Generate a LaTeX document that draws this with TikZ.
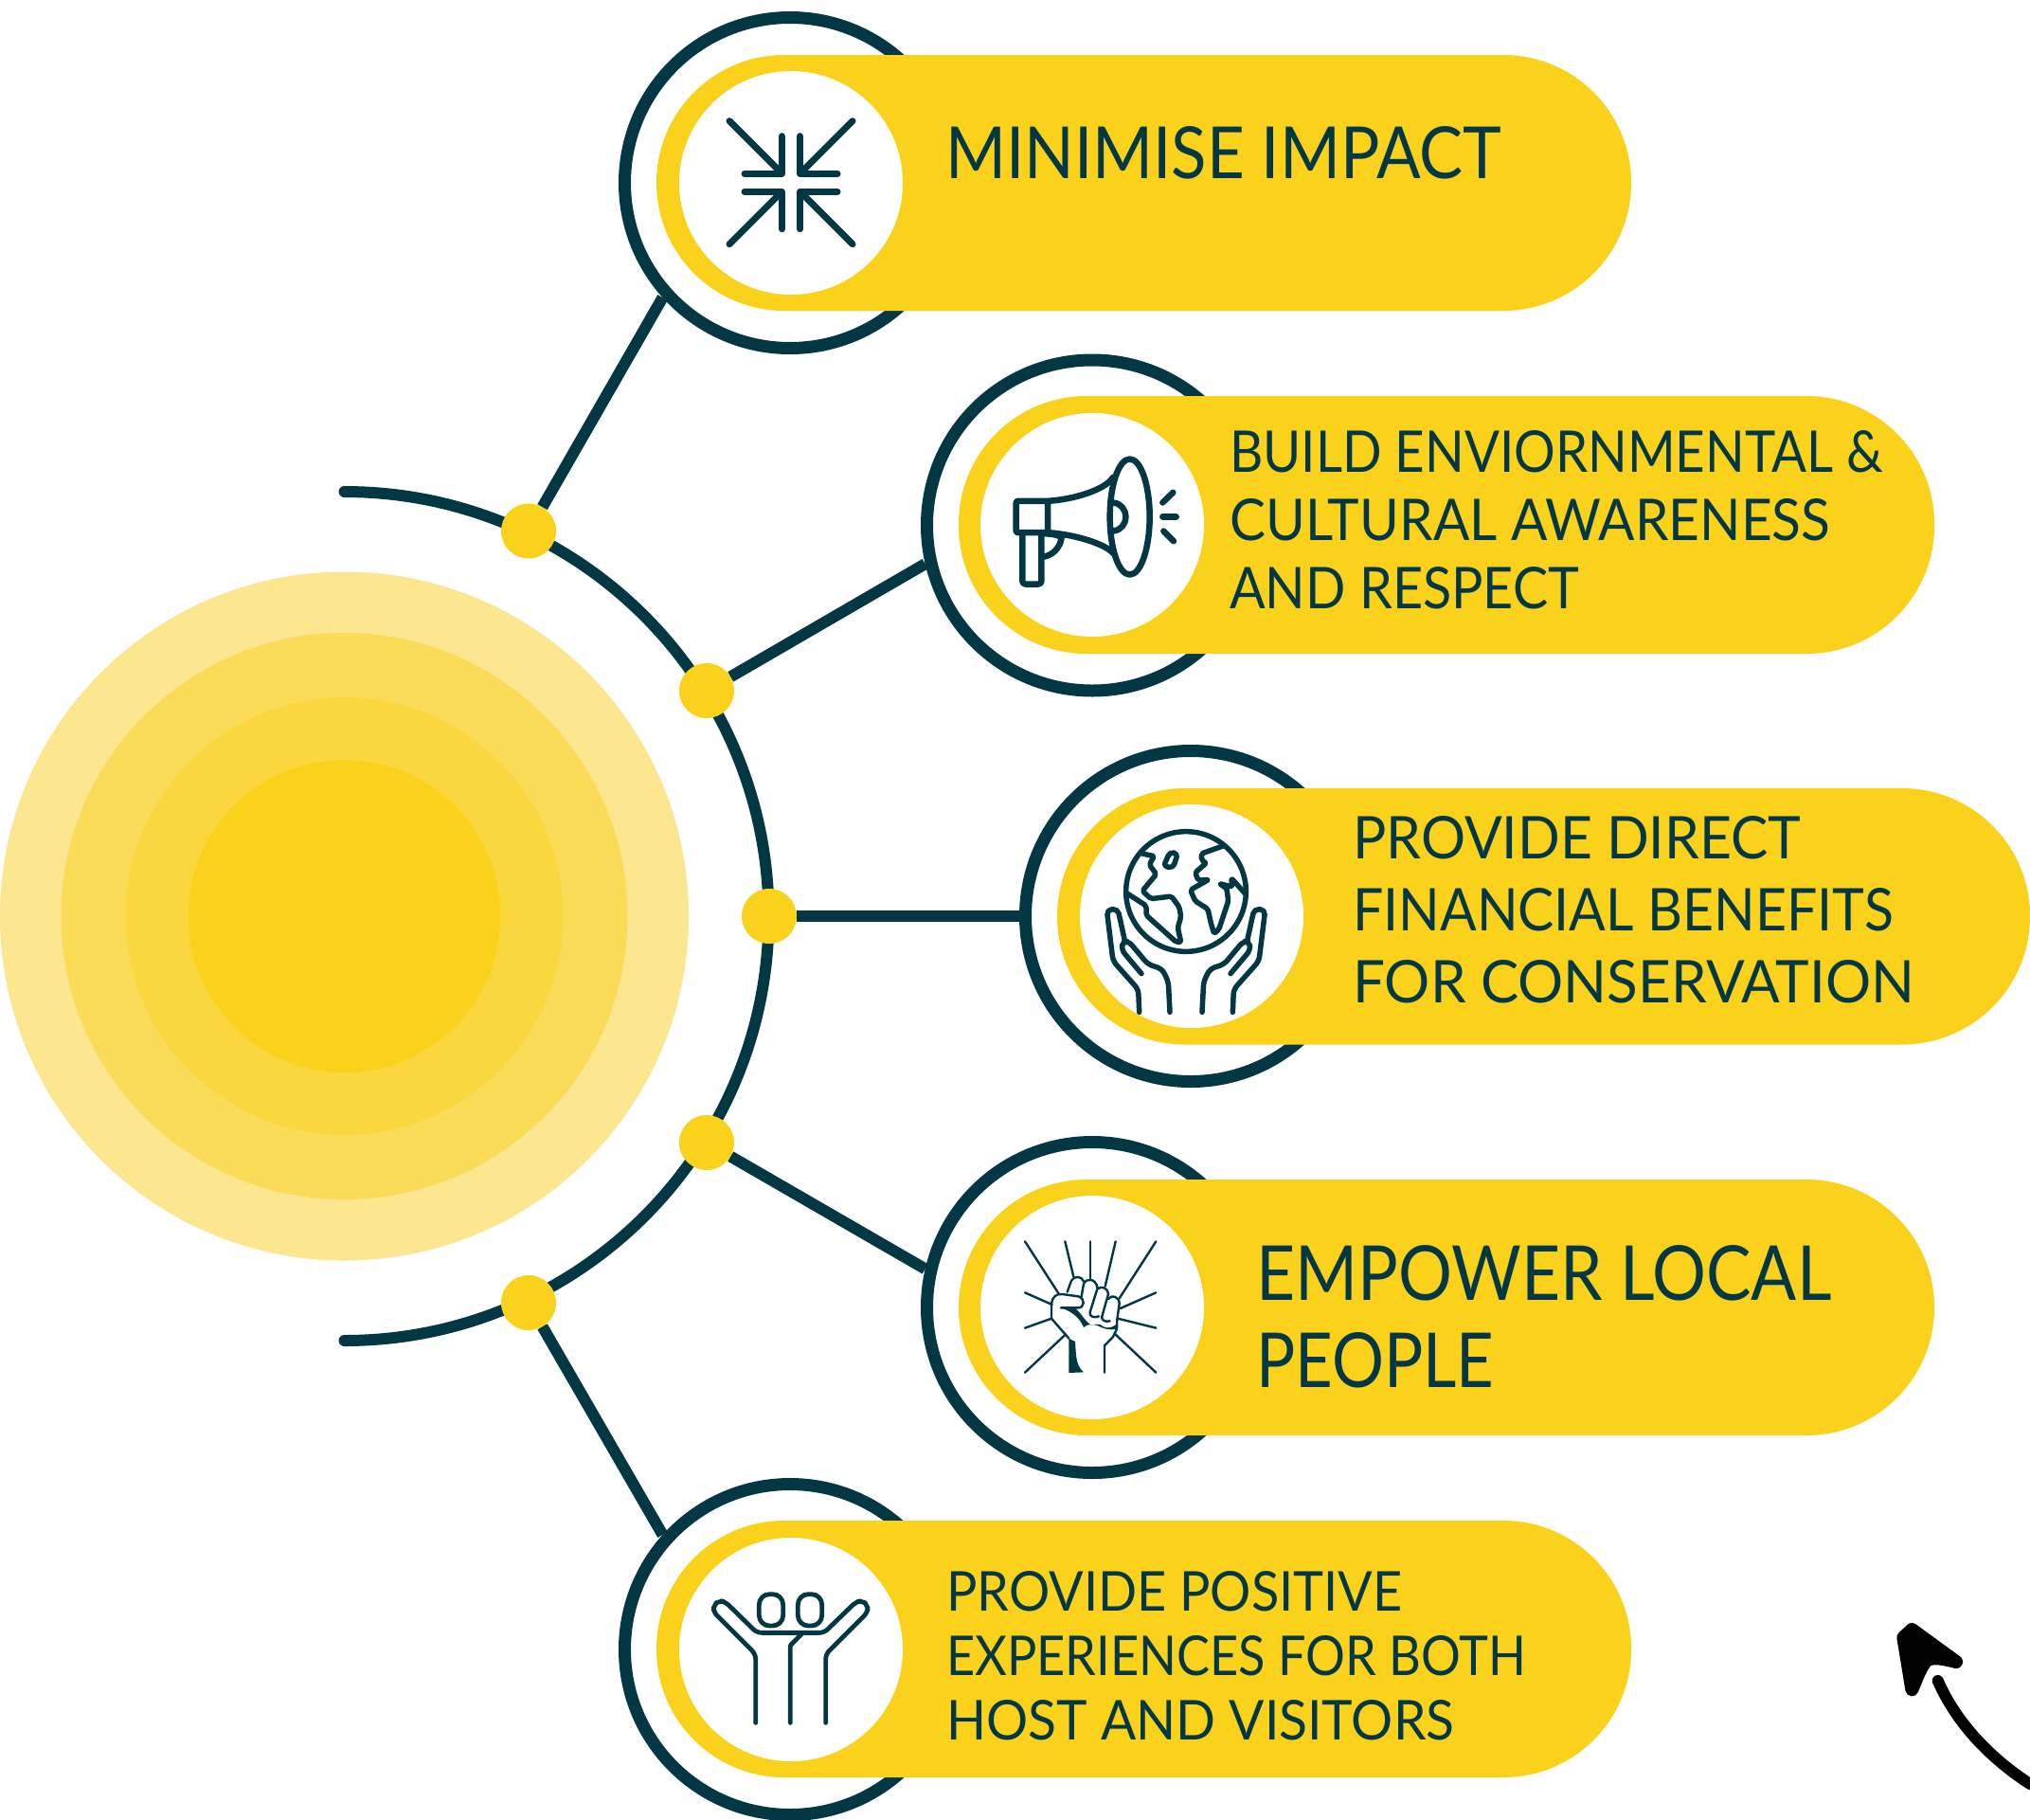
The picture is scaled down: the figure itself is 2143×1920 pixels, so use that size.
\documentclass[tikz,border=0pt]{standalone}
\usepackage{fontspec}
\usepackage{graphicx}
\setmainfont{Lato}
\definecolor{ink}{HTML}{033744}
\definecolor{gold}{HTML}{FBD21B}
\definecolor{sunA}{HTML}{FCE68F}
\definecolor{sunB}{HTML}{FBDC58}
\definecolor{sunC}{HTML}{FBD73F}
\definecolor{sunD}{HTML}{FBD21B}
\newcommand{\fitl}[3]{\resizebox{#1pt}{#2pt}{\fontsize{40}{48}\selectfont #3}}
\tikzset{
  ring/.style={circle,draw=ink,line width=13pt,fill=white,minimum size=349pt,inner sep=0pt},
  hub/.style={circle,fill=gold,minimum size=58pt,inner sep=0pt},
  link/.style={draw=ink,line width=12pt},
  pill/.style={fill=gold,rounded corners=135pt},
  face/.style={circle,fill=white,minimum size=236pt,inner sep=0pt},
  icon/.style={draw=ink,line cap=round,line join=round},
  lab/.style={anchor=west,inner sep=0pt,text=ink,align=left}
}
\begin{document}
\begin{tikzpicture}[x=1pt,y=-1pt]
\useasboundingbox[fill=white] (0,0) rectangle (2143,1920);
% sun
\fill[sunA] (363.5,967) circle[radius=363.5];
\fill[sunB] (363.5,967) circle[radius=299];
\fill[sunC] (363.5,967) circle[radius=231];
\fill[sunD] (363.5,967) circle[radius=165];
% big arc
\draw[ink,line width=12pt,line cap=round] (363.5,519) arc[start angle=-90,end angle=90,radius=448];
% rings
\node[ring] (r1) at (834,193) {};
\node[ring] (r2) at (1153,554.5) {};
\node[ring] (r3) at (1257,967) {};
\node[ring] (r4) at (1153,1380) {};
\node[ring] (r5) at (834,1741) {};
% hubs
\node[hub] (d1) at (558,560.5) {};
\node[hub] (d2) at (746,729) {};
\node[hub] (d3) at (812,967) {};
\node[hub] (d4) at (746,1206) {};
\node[hub] (d5) at (558,1375) {};
% connectors
\draw[link] (d1) -- (r1.222);
\draw[link] (d2) -- (r2.193);
\draw[link] (d3) -- (r3.180);
\draw[link] (d4) -- (r4.167);
\draw[link] (d5) -- (r5.138);
% pills
\fill[pill] (693,58) rectangle (1722,328);
\fill[pill] (1012,418) rectangle (2042,690);
\fill[pill] (1116,832) rectangle (2143,1102.5);
\fill[pill] (1012,1245) rectangle (2042,1515);
\fill[pill] (693,1605) rectangle (1722,1876);
% white faces
\node[face] (f1) at (835,193) {};
\node[face] (f2) at (1153,554) {};
\node[face] (f3) at (1258,967) {};
\node[face] (f4) at (1153,1380) {};
\node[face] (f5) at (835,1741) {};
% labels
\node[lab,font=\fontsize{1}{71}\selectfont] (t1) at (998,161) {\fitl{587}{55}{MINIMISE IMPACT}};
\node[lab,font=\fontsize{1}{72}\selectfont] (t2) at (1298,548.5) {\fitl{690}{44}{BUILD ENVIORNMENTAL \&}\\\fitl{634}{44}{CULTURAL AWARENESS}\\\fitl{369}{44}{AND RESPECT}};
\node[lab,font=\fontsize{1}{76}\selectfont] (t3) at (1428,960) {\fitl{473}{45}{PROVIDE DIRECT}\\\fitl{571}{45}{FINANCIAL BENEFITS}\\\fitl{593}{45}{FOR CONSERVATION}};
\node[lab,font=\fontsize{1}{92}\selectfont] (t4) at (1326,1390) {\fitl{607}{58}{EMPOWER LOCAL}\\\fitl{251}{58}{PEOPLE}};
\node[lab,font=\fontsize{1}{68}\selectfont] (t5) at (999,1748) {\fitl{481}{42}{PROVIDE POSITIVE}\\\fitl{612}{42}{EXPERIENCES FOR BOTH}\\\fitl{536}{42}{HOST AND VISITORS}};
% icon 1
\foreach \sx/\sy in {1/1,-1/1,1/-1,-1/-1}{
  \begin{scope}[shift={(835,192.7)},xscale=\sx,yscale=\sy]
    \draw[icon,line width=7pt] (-65,-65) -- (-10,-10);
    \draw[icon,line width=7pt] (-9.5,-49) -- (-9.5,-9.5) -- (-49,-9.5);
  \end{scope}
}
% icon 2 megaphone
\begin{scope}[shift={(1020,420.5)},scale=1/3]
  \draw[icon,line width=6.5pt,rounded corners=2pt] (158,325) rectangle (258,425);
  \draw[icon,line width=6.5pt,rounded corners=3pt] (178,425) -- (178,588) -- (238,588) -- (238,425);
  \draw[icon,line width=6.5pt] (238,428) .. controls (270,428) and (290,432) .. (302,440) .. controls (298,475) and (270,500) .. (240,502);
  \draw[icon,line width=6.5pt] (258,325) .. controls (340,320) and (440,290) .. (465,250);
  \draw[icon,line width=6.5pt] (258,425) .. controls (340,430) and (440,460) .. (465,490);
  \draw[icon,line width=6.5pt] (518,375) ellipse [x radius=63,y radius=183];
  \draw[icon,line width=6.5pt] (465,330) .. controls (490,332) and (505,352) .. (505,375) .. controls (505,398) and (490,418) .. (465,420);
  \draw[icon,line width=6.5pt] (622,330) -- (655,298);
  \draw[icon,line width=6.5pt] (622,375) -- (665,375);
  \draw[icon,line width=6.5pt] (625,420) -- (657,452);
\end{scope}
% icon 3 globe in hands
\begin{scope}[shift={(1130,851)},scale=1/3]
  \draw[icon,line width=5.5pt] (366,270) circle[radius=190];
  \draw[icon,line width=5.5pt,rounded corners=2pt] (228,150) -- (265,158) -- (250,185) -- (272,215) -- (228,268) -- (255,293) -- (320,285) -- (345,320) -- (350,350) -- (340,385) -- (350,430) -- (335,430) -- (240,345) -- (240,315) -- (178,275);
  \draw[icon,line width=5.5pt,rounded corners=4pt] (295,190) -- (315,145) -- (340,150) -- (325,195) -- cycle;
  \draw[icon,line width=5.5pt,rounded corners=2pt] (485,125) -- (415,150) -- (415,170) -- (430,180) -- (395,210) -- (405,235) -- (438,232) -- (380,265) -- (395,300) -- (435,325) -- (445,370) -- (455,403) -- (470,390) -- (500,300) -- (495,260) -- (472,245) -- (512,255) -- (510,228) -- (552,275);
  \foreach \m/\o in {1/0,-1/732}{
    \begin{scope}[shift={(\o,0)},xscale=\m]
      \draw[icon,line width=5.5pt,rounded corners=5pt] (218,652) -- (215,580) -- (135,490) -- (115,328) -- (150,325) -- (172,425);
      \draw[icon,line width=5.5pt,rounded corners=5pt] (225,530) -- (162,455) -- (165,428) -- (185,428) -- (245,500) -- (290,515) -- (310,555) -- (315,652);
    \end{scope}
  }
\end{scope}
% icon 4 fist
\begin{scope}[shift={(1060,1291)},scale=1/3]
  \draw[icon,line width=2.4pt] (66,58) -- (172,222);
  \draw[icon,line width=2.4pt] (193,58) -- (220,170);
  \draw[icon,line width=2.4pt] (273,58) -- (273,175);
  \draw[icon,line width=2.4pt] (353,58) -- (320,200);
  \draw[icon,line width=2.4pt] (481,58) -- (365,238);
  \draw[icon,line width=2.4pt] (66,220) -- (152,258);
  \draw[icon,line width=2.4pt] (481,220) -- (368,270);
  \draw[icon,line width=2.4pt] (66,332) -- (150,302);
  \draw[icon,line width=2.4pt] (481,332) -- (360,302);
  \draw[icon,line width=2.4pt] (66,473) -- (195,352);
  \draw[icon,line width=2.4pt] (481,473) -- (350,350);
  \draw[icon,line width=2.4pt] (205,365) -- (150,302) -- (150,255) .. controls (152,235) and (165,222) .. (185,225) -- (235,232) .. controls (258,238) and (255,268) .. (235,268) -- (180,268);
  \fill[ink] (180,268) -- (225,270) .. controls (245,285) and (255,310) .. (275,322) .. controls (290,322) and (300,315) .. (315,328) .. controls (330,335) and (345,330) .. (358,318) -- (357,335) .. controls (335,340) and (315,335) .. (295,324) .. controls (280,320) and (265,318) .. (252,330) .. controls (240,300) and (215,280) .. (180,268) -- cycle;
  \draw[icon,line width=2.4pt] (200,218) -- (213,182) .. controls (222,165) and (248,168) .. (252,185);
  \draw[icon,line width=2.4pt] (245,232) -- (252,192) .. controls (262,172) and (290,175) .. (296,205) -- (272,282) .. controls (268,295) and (285,302) .. (300,295);
  \draw[icon,line width=2.4pt] (296,208) .. controls (308,198) and (330,205) .. (330,225) -- (310,295) .. controls (306,305) and (320,315) .. (335,310);
  \draw[icon,line width=2.4pt] (330,240) .. controls (340,225) and (365,232) .. (365,255) -- (358,305) -- (357,335) -- (345,360) -- (318,388) -- (318,473);
  \fill[ink] (205,365) -- (225,375) .. controls (228,410) and (225,450) .. (252,472) -- (205,474) -- cycle;
\end{scope}
% icon 5 people
\begin{scope}[shift={(730,1661)},scale=1/3]
  \draw[icon,line width=4.8pt,rounded corners=11pt] (214,65) rectangle (290,165);
  \draw[icon,line width=4.8pt,rounded corners=11pt] (337,65) rectangle (413,165);
  \draw[icon,line width=4.8pt,rounded corners=5pt] (203,472) -- (203,255) -- (70,122) -- (70,100) -- (88,85) -- (108,90) -- (207,187) -- (420,187) -- (520,90) -- (540,85) -- (558,100) -- (558,122) -- (425,255) -- (425,472);
  \draw[icon,line width=4.8pt,rounded corners=1pt] (313,472) -- (313,227) -- (350,190);
\end{scope}
% corner arrow
\coordinate (atail) at (2143,1883);
\coordinate (ahead) at (2045.7,1774);
\draw[black,line width=12pt,line cap=round] (atail) .. controls (2100,1855) and (2065,1818) .. (ahead);
\begin{scope}[shift={(1960,1680)},scale=1/3]
  \filldraw[black,line width=14pt,line join=round] (148,145) -- (175,120) -- (315,222) .. controls (285,215) and (250,205) .. (225,215) .. controls (205,230) and (190,275) .. (175,310) -- cycle;
\end{scope}
\end{tikzpicture}
\end{document}
